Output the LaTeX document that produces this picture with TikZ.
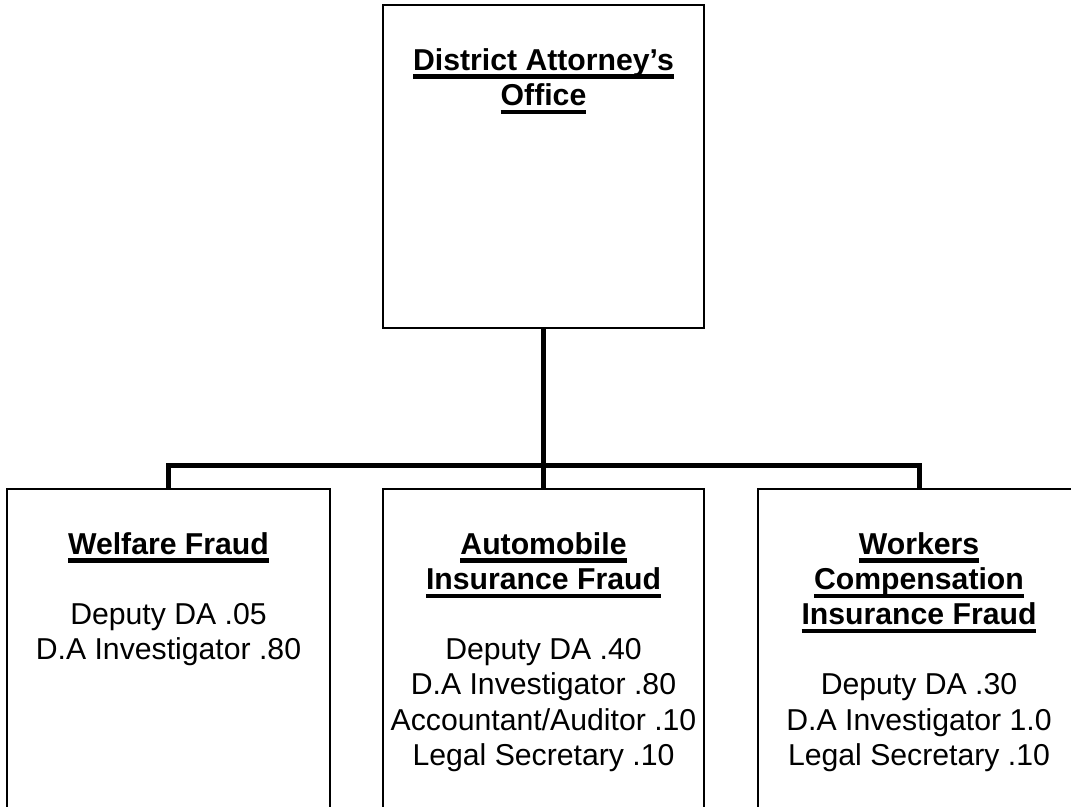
\documentclass[tikz,border=0pt]{standalone}
\usepackage{fontspec}
\setmainfont{Liberation Sans}
\newcommand\hdul[1]{\setbox0\hbox{#1}\rlap{\rule[-8.5pt]{\wd0}{4.2pt}}\box0}
\tikzset{
  orgbox/.style={draw=black, line width=1.5pt, rectangle, inner sep=0pt},
  conn/.style={draw=black, line width=5pt, line join=miter},
  txt/.style={anchor=base, inner sep=0pt, font=\fontsize{30.2}{35.2}\selectfont}
}
\begin{document}
\begin{tikzpicture}[x=1pt,y=-1pt]
\useasboundingbox (0,0) rectangle (1071,806);
\clip (0,0) rectangle (1071,806);
\fill[white] (0,0) rectangle (1071,806);
% boxes
\node[orgbox, minimum width=321pt, minimum height=323pt] (da) at (543.5,166.5) {};
\node[orgbox, minimum width=323pt, minimum height=341pt] (wf) at (168.5,659.5) {};
\node[orgbox, minimum width=321pt, minimum height=341pt] (ai) at (543.5,659.5) {};
\node[orgbox, minimum width=322pt, minimum height=341pt] (wc) at (919,659.5) {};
% connectors
\coordinate (j) at (543.5,465);
\draw[conn] (da.south) -- (ai.north);
\draw[conn] (wf.north) |- (j) -| (wc.north);
% texts
\node[txt] (tda) at (543.5,70) {\begin{tabular}[t]{@{}c@{}}\bfseries\hdul{District Attorney’s}\\ \bfseries\hdul{Office}\end{tabular}};
\node[txt] (twf) at (168.5,554) {\begin{tabular}[t]{@{}c@{}}\bfseries\hdul{Welfare Fraud}\\ \\ Deputy DA .05\\ D.A Investigator .80\end{tabular}};
\node[txt] (tai) at (543.5,554) {\begin{tabular}[t]{@{}c@{}}\bfseries\hdul{Automobile}\\ \bfseries\hdul{Insurance Fraud}\\ \\ Deputy DA .40\\ D.A Investigator .80\\ Accountant/Auditor .10\\ Legal Secretary .10\end{tabular}};
\node[txt] (twc) at (919,554) {\begin{tabular}[t]{@{}c@{}}\bfseries\hdul{Workers}\\ \bfseries\hdul{Compensation}\\ \bfseries\hdul{Insurance Fraud}\\ \\ Deputy DA .30\\ D.A Investigator 1.0\\ Legal Secretary .10\end{tabular}};
\end{tikzpicture}
\end{document}
